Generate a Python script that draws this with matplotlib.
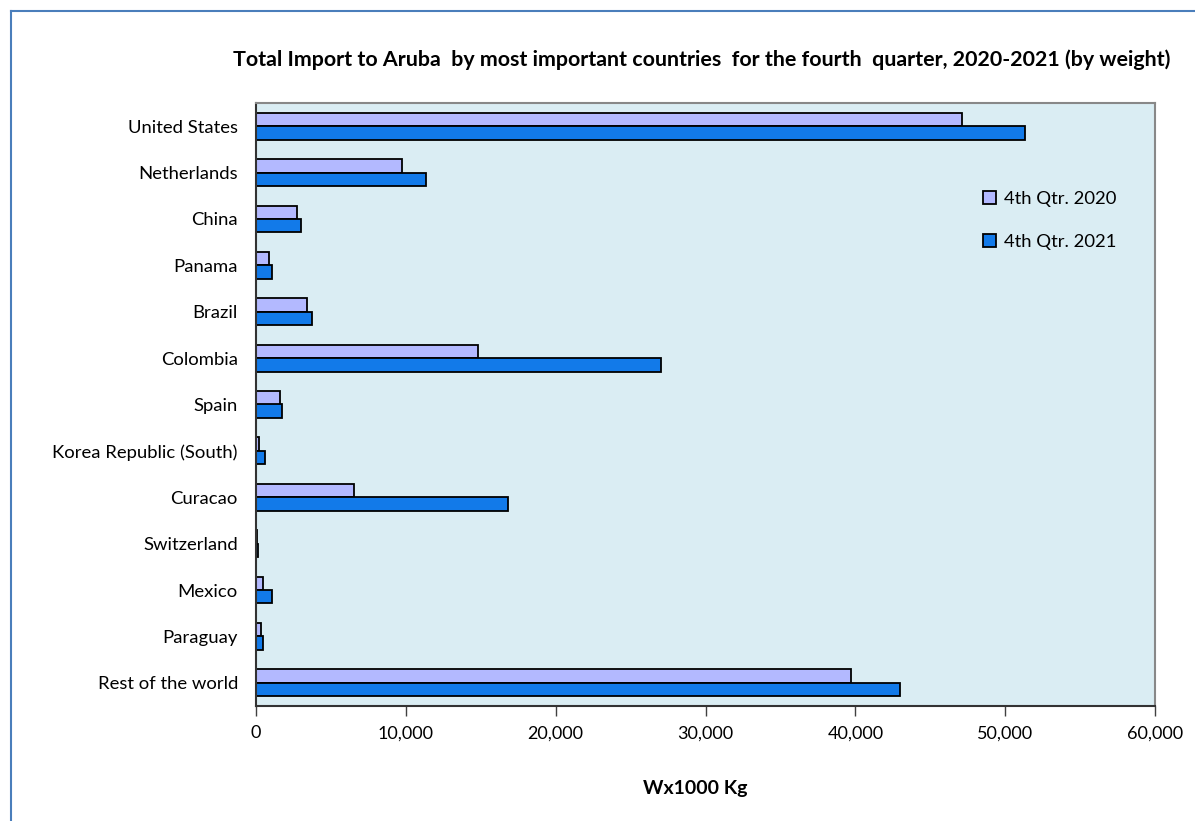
import matplotlib
matplotlib.use("Agg")
import matplotlib.pyplot as plt
import numpy as np
from matplotlib.ticker import FuncFormatter, MultipleLocator
from matplotlib.lines import Line2D
from matplotlib.patches import Patch

countries = ["United States", "Netherlands", "China", "Panama", "Brazil", "Colombia",
             "Spain", "Korea Republic (South)", "Curacao", "Switzerland", "Mexico",
             "Paraguay", "Rest of the world"]
q4_2020 = [47150, 9730, 2760, 870, 3380, 14800, 1630, 220, 6550, 100, 470, 360, 39680]
q4_2021 = [51300, 11360, 3000, 1100, 3760, 27030, 1740, 600, 16790, 130, 1100, 490, 42970]
series_labels = ["4th Qtr. 2020", "4th Qtr. 2021"]
title = "Total Import to Aruba  by most important countries  for the fourth  quarter, 2020-2021 (by weight)"
xlabel = "Wx1000 Kg"

plt.rcParams['font.family'] = ['Lato', 'DejaVu Sans']

fig = plt.figure(figsize=(11.95, 8.21), dpi=100)
ax = fig.add_axes([256/1195, 1-706/821, (1155-256)/1195, (706-103)/821])
ax.set_facecolor("#daedf3")

n = len(countries)
y = np.arange(n)
h = 0.29
ax.barh(y - h/2, q4_2020, height=h, color="#b3b9ff", edgecolor="black", linewidth=1.3, label=series_labels[0])
ax.barh(y + h/2, q4_2021, height=h, color="#127ae9", edgecolor="black", linewidth=1.3, label=series_labels[1])

ax.set_ylim(n - 0.5, -0.5)
ax.set_yticks(y)
ax.set_yticklabels(countries, fontsize=13.3)
ax.tick_params(axis='y', length=0, pad=13)
ax.set_xlim(0, 60000)
ax.xaxis.set_major_locator(MultipleLocator(10000))
ax.xaxis.set_major_formatter(FuncFormatter(lambda v, p: f"{int(v):,}"))
ax.tick_params(axis='x', length=7, width=1, color="#404040", labelsize=13, pad=7)

for s in ["top", "right"]:
    ax.spines[s].set_color("#888888")
    ax.spines[s].set_linewidth(1.5)
for s in ["left", "bottom"]:
    ax.spines[s].set_color("#333333")
    ax.spines[s].set_linewidth(1.5)

fig.text(695/1195, 1-788/821, xlabel, ha="center", va="center", fontsize=14, fontweight="bold")

fig.text(702/1195, 1-60/821, title, ha="center", va="center", fontsize=15.4, fontweight="bold")

handles = [Patch(facecolor="#b3b9ff", edgecolor="black", linewidth=1.3),
           Patch(facecolor="#127ae9", edgecolor="black", linewidth=1.3)]
leg = ax.legend(handles, series_labels, loc="upper left", bbox_to_anchor=(0.79, 0.882),
                frameon=False, fontsize=13.3, handlelength=0.7, handleheight=0.7,
                handletextpad=0.45, labelspacing=1.45)

# outer chart border
fig.add_artist(Line2D([11/1195, 11/1195], [0, 1-11/821], color="#4a7ebb", linewidth=1.5))
fig.add_artist(Line2D([11/1195, 1], [1-11/821, 1-11/821], color="#4a7ebb", linewidth=1.5))

fig.savefig("out.png", dpi=100)
